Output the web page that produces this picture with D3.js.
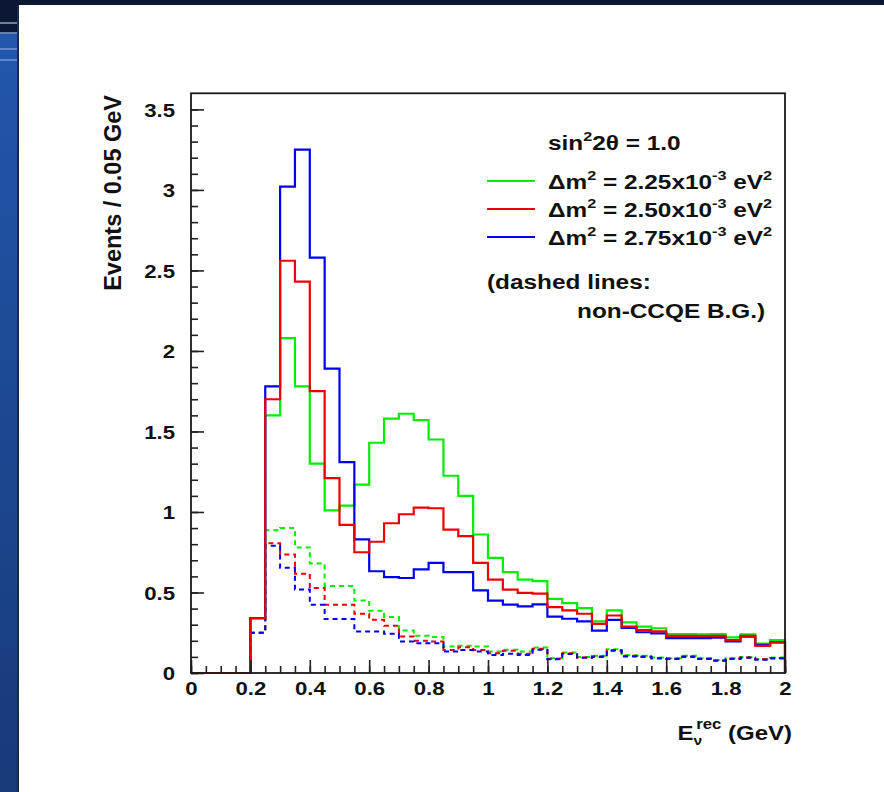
<!DOCTYPE html>
<html><head><meta charset="utf-8">
<script src="https://cdn.jsdelivr.net/npm/d3@7/dist/d3.min.js"></script>
<style>
html,body{margin:0;padding:0;background:#0b1733;}
svg{display:block;}
text{font-family:"Liberation Sans",Arial,Helvetica,sans-serif;font-weight:bold;fill:#111;}
</style></head>
<body>
<svg id="c" width="884" height="792"></svg>
<script>
// ---------------- data ----------------
const binWidth = 0.05;
const binStarts = d3.range(0, 40).map(i => +(i * binWidth).toFixed(2)); // 0.00 .. 1.95
// solid: total expected events per bin (0-0.2 GeV empty)
const green = [0,0,0,0, 0.34,1.60,2.08,1.78,1.30,1.01,1.04,1.17,1.43,1.58,1.61,1.57,1.45,1.225,1.10,0.86,
  0.715,0.626,0.58,0.571,0.46,0.434,0.403,0.32,0.389,0.315,0.288,0.278,0.242,0.242,0.24,0.242,0.221,0.24,0.183,0.204];
const red = [0,0,0,0, 0.34,1.70,2.56,2.43,1.75,1.21,0.92,0.75,0.815,0.93,0.986,1.027,1.023,0.89,0.85,0.684,
  0.58,0.518,0.497,0.493,0.409,0.389,0.368,0.305,0.357,0.288,0.267,0.259,0.231,0.231,0.231,0.231,0.204,0.231,0.168,0.19];
const blue = [0,0,0,0, 0.34,1.78,3.02,3.25,2.58,1.89,1.31,0.83,0.632,0.595,0.59,0.643,0.684,0.626,0.626,0.513,
  0.45,0.424,0.414,0.426,0.35,0.337,0.32,0.263,0.33,0.28,0.253,0.246,0.217,0.217,0.217,0.22,0.196,0.225,0.175,0.19];
// dashed: non-CCQE background
const greenBG = [0,0,0,0, 0.25,0.886,0.90,0.78,0.68,0.54,0.54,0.45,0.387,0.347,0.264,0.231,0.223,0.164,0.17,0.164,
  0.133,0.145,0.133,0.158,0.092,0.127,0.10,0.107,0.148,0.11,0.107,0.096,0.092,0.107,0.092,0.08,0.092,0.10,0.087,0.096];
const redBG = [0,0,0,0, 0.25,0.805,0.736,0.617,0.528,0.424,0.424,0.368,0.33,0.293,0.226,0.20,0.195,0.143,0.16,0.143,
  0.123,0.138,0.12,0.15,0.088,0.122,0.097,0.104,0.143,0.107,0.104,0.093,0.09,0.104,0.09,0.078,0.09,0.097,0.085,0.093];
const blueBG = [0,0,0,0, 0.25,0.79,0.653,0.518,0.424,0.335,0.335,0.258,0.258,0.243,0.195,0.185,0.185,0.133,0.143,0.133,
  0.112,0.12,0.112,0.145,0.085,0.118,0.094,0.10,0.138,0.103,0.10,0.09,0.087,0.10,0.087,0.076,0.087,0.094,0.082,0.09];
const xTicks = [0,0.2,0.4,0.6,0.8,1,1.2,1.4,1.6,1.8,2];
const xTickLabels = ["0","0.2","0.4","0.6","0.8","1","1.2","1.4","1.6","1.8","2"];
const yTicks = [0,0.5,1,1.5,2,2.5,3,3.5];
const yTickLabels = ["0","0.5","1","1.5","2","2.5","3","3.5"];
const legendValues = ["2.25","2.50","2.75"];

// ---------------- layout ----------------
const SX = 1.2;   // horizontal stretch of the original figure's text
const SXL = 1.25; // legend text stretch
const colors = ["#00ee00", "#ee0000", "#0000ee"];
const svg = d3.select("#c");

// slide background
const defs = svg.append("defs");
const lg = defs.append("linearGradient").attr("id","side").attr("x1",0).attr("y1",0).attr("x2",0).attr("y2",1);
lg.append("stop").attr("offset","0").attr("stop-color","#2257ad");
lg.append("stop").attr("offset","1").attr("stop-color","#173a78");
svg.append("rect").attr("x",0).attr("y",0).attr("width",884).attr("height",792).attr("fill","#0b1733");
svg.append("rect").attr("x",0).attr("y",34).attr("width",19).attr("height",758).attr("fill","url(#side)");
[[23,"#8a9bbd"],[33,"#7f98c8"],[49,"#6f93d6"],[60,"#6f93d6"]].forEach(([yy,c])=>{
  svg.append("rect").attr("x",0).attr("y",yy-1).attr("width",19).attr("height",2).attr("fill",c).attr("opacity",0.8);
});
svg.append("rect").attr("x",17).attr("y",5).attr("width",2).attr("height",787).attr("fill","#1a2a48");
svg.append("rect").attr("x",19).attr("y",5).attr("width",865).attr("height",787).attr("fill","#ffffff");

const L = 191, R = 785, T = 93.3, B = 673;
const x = d3.scaleLinear().domain([0, 2]).range([L, R]);
const y = d3.scaleLinear().domain([0, 3.6]).range([B, T]);

// histograms
function histPath(vals) {
  const pts = [[0, 0]];
  vals.forEach((v, i) => pts.push([binStarts[i], v]));
  pts.push([2, vals[vals.length - 1]]);
  pts.push([2, 0]);
  return d3.line().x(d => x(d[0])).y(d => y(d[1])).curve(d3.curveStepAfter)(pts);
}
const gH = svg.append("g");
[greenBG, redBG, blueBG].forEach((s, i) => {
  gH.append("path").attr("d", histPath(s)).attr("fill", "none").attr("stroke", colors[i])
    .attr("stroke-width", 2).attr("stroke-dasharray", "5,4");
});
[green, blue, red].forEach((s, k) => {
  const i = [0, 2, 1][k];
  gH.append("path").attr("d", histPath(s)).attr("fill", "none").attr("stroke", colors[i])
    .attr("stroke-width", 2.2).attr("stroke-linejoin", "miter");
});

// axes
const fs = 18.5;
const yMinor = d3.range(0, 36).map(i => +(i * 0.1).toFixed(2));
const xMinor = d3.range(0, 41).map(i => +(i * 0.05).toFixed(2));
svg.append("g").attr("transform", `translate(${L},0)`)
  .call(d3.axisLeft(y).tickValues(yMinor).tickSize(-7).tickFormat(""))
  .call(g => g.select(".domain").remove())
  .selectAll("line").attr("stroke", "#222").attr("stroke-width", 1.6);
svg.append("g").attr("transform", `translate(0,${B})`)
  .call(d3.axisBottom(x).tickValues(xMinor).tickSize(-7).tickFormat(""))
  .call(g => g.select(".domain").remove())
  .selectAll("line").attr("stroke", "#222").attr("stroke-width", 1.6);

const ya = svg.append("g").attr("transform", `translate(${L},0)`)
  .call(d3.axisLeft(y).tickValues(yTicks).tickSize(-13).tickPadding(18)
    .tickFormat((d, i) => yTickLabels[i]));
ya.select(".domain").remove();
ya.selectAll("line").attr("stroke", "#222").attr("stroke-width", 1.6);
ya.selectAll("text").attr("font-size", fs).attr("font-family", null)
  .attr("transform", `scale(${SX},1)`).attr("x", -16 / SX).attr("dy", "0.36em");

const xa = svg.append("g").attr("transform", `translate(0,${B})`)
  .call(d3.axisBottom(x).tickValues(xTicks).tickSize(-13).tickPadding(9)
    .tickFormat((d, i) => xTickLabels[i]));
xa.select(".domain").remove();
xa.selectAll("line").attr("stroke", "#222").attr("stroke-width", 1.6);
xa.selectAll("text").attr("font-size", fs).attr("font-family", null)
  .attr("transform", `scale(${SX},1)`);

// frame
svg.append("rect").attr("x", L).attr("y", T).attr("width", R - L).attr("height", B - T)
  .attr("fill", "none").attr("stroke", "#1a1a1a").attr("stroke-width", 1.8);

// text helper
function txt(xp, yp, anchor, size, sx) {
  return svg.append("text").attr("transform", `translate(${xp},${yp}) scale(${sx || SX},1)`)
    .attr("text-anchor", anchor).attr("font-size", size);
}

// axis titles
svg.append("text")
  .attr("transform", `translate(121,95) scale(1.05,1) rotate(-90)`)
  .attr("text-anchor", "end").attr("font-size", 23.5).text("Events / 0.05 GeV");

const xt = txt(792, 740, "end", 20);
xt.append("tspan").text("E");
xt.append("tspan").attr("font-size", 13).attr("dy", 5).text("ν");
xt.append("tspan").attr("font-size", 14).attr("dx", -5).attr("dy", -16).text("rec");
xt.append("tspan").attr("dy", 11).text("  (GeV)");

// legend
const lt = txt(548, 149.5, "start", 19.5, SXL);
lt.append("tspan").text("sin");
lt.append("tspan").attr("font-size", 13).attr("dy", -9).text("2");
lt.append("tspan").attr("dy", 9).text("2θ = 1.0");

legendValues.forEach((v, i) => {
  const by = 189 + i * 28;
  svg.append("line").attr("x1", 487).attr("x2", 535).attr("y1", by - 8).attr("y2", by - 8)
    .attr("stroke", colors[i]).attr("stroke-width", 2);
  const t = txt(548, by, "start", 19.5, SXL);
  t.append("tspan").text("Δm");
  t.append("tspan").attr("font-size", 13).attr("dy", -9).text("2");
  t.append("tspan").attr("dy", 9).text(" = " + v + "x10");
  t.append("tspan").attr("font-size", 13).attr("dy", -9).text("-3");
  t.append("tspan").attr("dy", 9).text(" eV");
  t.append("tspan").attr("font-size", 13).attr("dy", -9).text("2");
});
txt(487, 289, "start", 19.5, SXL).text("(dashed lines:");
txt(577, 318, "start", 19.5, SXL).text("non-CCQE B.G.)");
</script>
</body></html>
